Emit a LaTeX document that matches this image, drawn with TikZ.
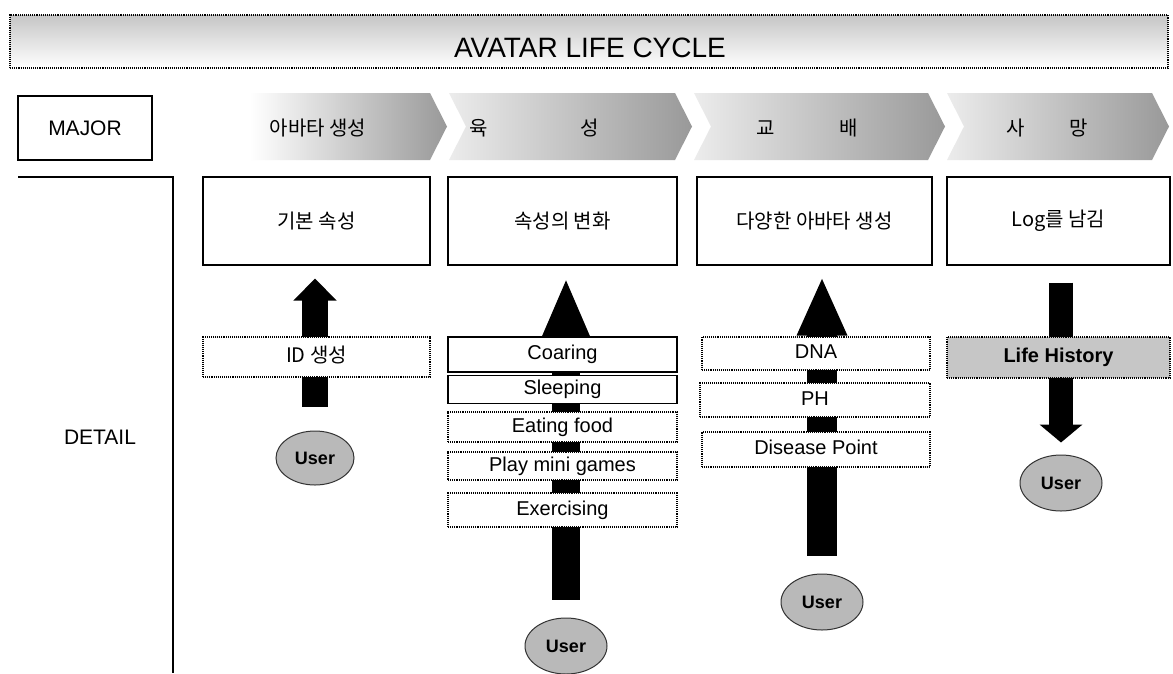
\documentclass[tikz,border=0pt]{standalone}
\usepackage{fontspec}
\setmainfont{Liberation Sans}
\newfontfamily\kr{Noto Sans CJK KR}
\usetikzlibrary{arrows.meta,shapes.geometric,calc}
\begin{document}
\begin{tikzpicture}[x=1pt,y=-1pt,
  frame/.style={draw=black, line width=1.1pt, rectangle, inner sep=0pt},
  mainbox/.style={frame, font=\kr\fontsize{20}{24}\selectfont},
  itembox/.style={frame, densely dotted, text height=14pt, text depth=4pt, font=\fontsize{20}{24}\selectfont},
  user/.style={ellipse, draw=black!80, fill=gray!55, line width=1pt, minimum width=82pt, minimum height=56pt, inner sep=0pt, font=\bfseries\fontsize{18}{20}\selectfont},
  chev/.style={left color=gray!15, right color=gray!80, draw=none},
  chevtext/.style={font=\kr\fontsize{20}{24}\selectfont, inner sep=0pt},
  lbl/.style={font=\fontsize{21}{24}\selectfont, inner sep=0pt}
]
\useasboundingbox (0,0) rectangle (1173,673);
\fill[white] (0,0) rectangle (1173,673);

% title
\node[frame, densely dotted, top color=gray!45, bottom color=white, minimum width=1158pt, minimum height=53pt] (titlebox) at (589,41.5) {};
\node[font=\fontsize{28}{30}\selectfont, inner sep=0pt] (title) at (590,48) {AVATAR LIFE CYCLE};

% major
\node[frame, minimum width=134pt, minimum height=64pt, font=\fontsize{21}{24}\selectfont] (major) at (85,128) {MAJOR};

% chevrons
\shade[chev, left color=white] (250,93) -- (430,93) -- (447,126.5) -- (430,160) -- (250,160) -- cycle;
\shade[chev] (449,93) -- (675,93) -- (692,126.5) -- (675,160) -- (449,160) -- (466,126.5) -- cycle;
\shade[chev] (694,93) -- (928,93) -- (945,126.5) -- (928,160) -- (694,160) -- (711,126.5) -- cycle;
\shade[chev] (947,93) -- (1152,93) -- (1169,126.5) -- (1152,160) -- (947,160) -- (964,126.5) -- cycle;
\node[chevtext] (c1) at (318,128) {아바타 생성};
\node[chevtext] (c2) at (534,128) {육\hspace{92pt}성};
\node[chevtext] (c3) at (807,128) {교\hspace{65pt}배};
\node[chevtext] (c4) at (1047,128) {사\hspace{45pt}망};

% detail column
\draw[line width=1.1pt] (18,177) -- (173,177) -- (173,673);
\node[lbl] (detail) at (100,437) {DETAIL};

% main boxes
\node[mainbox, minimum width=227pt, minimum height=88pt] (box1) at (316.5,221) {기본 속성};
\node[mainbox, minimum width=229pt, minimum height=88pt] (box2) at (562.5,221) {속성의 변화};
\node[mainbox, minimum width=235pt, minimum height=88pt] (box3) at (814.5,221) {다양한 아바타 생성};
\node[mainbox, minimum width=223pt, minimum height=88pt] (box4) at (1058.5,221) {Log를 남김};

% users
\node[user, minimum width=78pt, minimum height=54pt] (user1) at (315,458) {User};
\node[user] (user2) at (566,646) {User};
\node[user] (user3) at (822,602) {User};
\node[user] (user4) at (1061,483) {User};

% arrows
\draw[line width=26pt, -{Triangle[length=22pt,width=42pt]}, shorten <=24pt, shorten >=13pt] (user1.north) -- (user1.north |- box1.south);
\draw[line width=28pt, -{Triangle[length=60pt,width=44pt]}, shorten <=18pt, shorten >=12pt] (user2.north) -- (user2.north |- box2.south);
\draw[line width=30pt, -{Triangle[length=59pt,width=46pt]}, shorten <=18pt, shorten >=11pt] (user3.north) -- (user3.north |- box3.south);
\draw[line width=24pt, -{Triangle[length=18pt,width=42pt]}, shorten <=17pt, shorten >=12pt] (user4.north |- box4.south) -- (user4.north);

% item boxes
\node[itembox, fill=white, minimum width=227pt, minimum height=40pt, font=\kr\fontsize{20}{24}\selectfont] (id) at (316.5,357) {ID 생성};

\node[itembox, fill=white, solid, minimum width=229pt, minimum height=35pt] (i1) at (562.5,354.5) {Coaring};
\node[itembox, fill=white, solid, minimum width=229pt, minimum height=28pt] (i2) at (562.5,389.5) {Sleeping};
\node[itembox, fill=white, minimum width=229pt, minimum height=30pt] (i3) at (562.5,427) {Eating food};
\node[itembox, fill=white, minimum width=229pt, minimum height=28pt] (i4) at (562.5,466) {Play mini games};
\node[itembox, fill=white, minimum width=229pt, minimum height=34pt] (i5) at (562.5,510) {Exercising};

\node[itembox, fill=white, minimum width=228pt, minimum height=33pt] (dna) at (816,353.5) {DNA};
\node[itembox, fill=white, minimum width=230pt, minimum height=34pt] (ph) at (815,400) {PH};
\node[itembox, fill=white, minimum width=228pt, minimum height=35pt] (dis) at (816,449.5) {Disease Point};

\node[itembox, fill=gray!45, minimum width=223pt, minimum height=41pt, font=\bfseries\fontsize{20}{24}\selectfont] (life) at (1058.5,357.5) {Life History};
\end{tikzpicture}
\end{document}
